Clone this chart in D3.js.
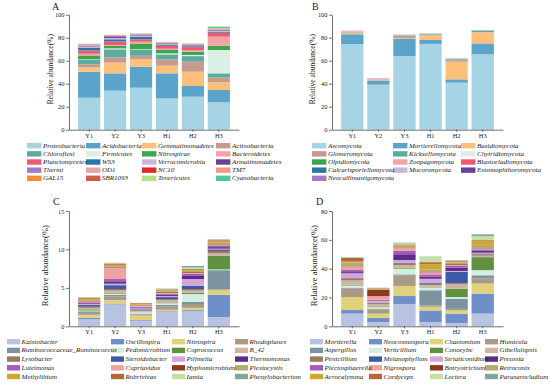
<!DOCTYPE html>
<html>
<head>
<meta charset="utf-8">
<script src="https://cdn.jsdelivr.net/npm/d3@7"></script>
<style>
  body { margin: 0; background: #fff; }
  svg { display: block; font-family: "Liberation Serif", "Times New Roman", serif; }
</style>
</head>
<body>
<svg id="chart" width="550" height="384"></svg>
<script>
const samples = ["Y1", "Y2", "Y3", "H1", "H2", "H3"];

// A - bacterial phyla (values per sample: Y1 Y2 Y3 H1 H2 H3)
const bacPhyla = ["Proteobacteria", "Acidobacteria", "Gemmatimonadetes", "Actinobacteria",
  "Chloroflexi", "Firmicutes", "Nitrospirae", "Bacteroidetes",
  "Planctomycetes", "WS3", "Verrucomicrobia", "Armatimonadetes",
  "Thermi", "OD1", "NC10", "TM7",
  "GAL15", "SBR1093", "Tenericutes", "Cyanobacteria"];
const bacPhylaValues = [
  [27.8, 33.9, 36.5, 27.2, 28.7, 23.8],
  [22.6, 15.1, 18.3, 21.8, 9.3, 10.7],
  [3.8, 9.3, 6.4, 6.7, 12.4, 6.7],
  [2.6, 4.6, 3.1, 5.5, 8.7, 4.3],
  [4.0, 7.0, 5.0, 4.3, 4.9, 3.5],
  [0.4, 0.8, 0.6, 0.9, 1.0, 20.3],
  [3.4, 2.1, 5.1, 2.9, 2.8, 3.7],
  [1.4, 0.8, 1.5, 1.1, 1.1, 7.9],
  [2.9, 3.2, 2.1, 2.6, 2.9, 3.4],
  [2.5, 1.8, 2.3, 0.9, 0.8, 1.0],
  [0.8, 1.2, 1.0, 0.5, 0.6, 0.8],
  [0.4, 0.8, 0.6, 0.6, 0.5, 0.5],
  [0.6, 0.9, 0.3, 0.3, 0.3, 0.3],
  [0.4, 0.3, 0.2, 0.2, 0.2, 0.3],
  [0.2, 0.1, 0.1, 0.1, 0.1, 0.2],
  [0.3, 0.2, 0.2, 0.2, 0.2, 0.3],
  [0.1, 0.1, 0.1, 0.1, 0.1, 0.2],
  [0.2, 0.1, 0.1, 0.1, 0.1, 0.2],
  [0.1, 0.1, 0.1, 0.1, 0.1, 0.3],
  [0.2, 0.1, 0.1, 0.1, 0.1, 1.2]
];

// B - fungal phyla
const funPhyla = ["Ascomycota", "Mortierellomycota", "Basidiomycota",
  "Glomeromycota", "Kickxellomycota", "Chytridiomycota",
  "Olpidiomycota", "Zoopagomycota", "Blastocladiomycota",
  "Calcarisporiellomycota", "Mucoromycota", "Entomophthoromycota",
  "Neocallimastigomycota"];
const funPhylaValues = [
  [74.5, 39.1, 64.0, 74.6, 40.9, 65.5],
  [8.5, 3.3, 15.1, 3.4, 2.9, 9.5],
  [1.2, 0.4, 0.5, 4.0, 15.3, 9.6],
  [0.4, 0.3, 1.8, 0.3, 1.2, 0.3],
  [0.3, 0.2, 0.6, 0.3, 0.4, 1.0],
  [0.2, 0.1, 0.2, 0.2, 0.3, 0.3],
  [0.1, 0.1, 0.1, 0.5, 0.6, 0.2],
  [0.6, 0.9, 0.2, 0.1, 0.1, 0.1],
  [0.1, 0.1, 0.05, 0.05, 0.05, 0.05],
  [0.05, 0.05, 0.05, 0.05, 0.05, 0.05],
  [0.05, 0.05, 0.05, 0.05, 0.05, 0.05],
  [0.02, 0.02, 0.02, 0.02, 0.02, 0.02],
  [0.02, 0.02, 0.02, 0.02, 0.02, 0.02]
];

// C - bacterial genera
const bacGenera = ["Kaistobacter", "Oscillospira", "Nitrospira", "Rhodoplanes",
  "Ruminococcaceae_Ruminococcus", "Pedomicrobium", "Coprococcus", "B_42",
  "Lysobacter", "Steroidobacter", "Pilimelia", "Thermomonas",
  "Luteimonas", "Cupriavidus", "Hyphomicrobium", "Plesiocystis",
  "Methylibium", "Rubrivivax", "Iamia", "Phenylobacterium"];
const bacGeneraValues = [
  [0.95, 2.85, 0.7, 1.85, 1.95, 1.2],
  [0.15, 0.1, 0.1, 0.1, 0.15, 2.9],
  [0.4, 0.45, 0.6, 0.2, 0.3, 0.6],
  [0.25, 0.5, 0.15, 0.45, 0.5, 0.1],
  [0.2, 0.2, 0.1, 0.2, 0.3, 2.5],
  [0.1, 0.15, 0.2, 0.2, 1.0, 0.1],
  [0.15, 0.1, 0.05, 0.1, 0.15, 1.8],
  [0.2, 0.3, 0.1, 0.3, 0.3, 0.3],
  [0.15, 0.2, 0.1, 0.15, 0.2, 0.3],
  [0.25, 0.5, 0.1, 0.25, 0.4, 0.2],
  [0.1, 0.2, 0.15, 0.15, 0.9, 0.1],
  [0.1, 0.3, 0.1, 0.15, 0.4, 0.2],
  [0.12, 0.3, 0.1, 0.15, 0.3, 0.15],
  [0.12, 1.5, 0.15, 0.1, 0.1, 0.1],
  [0.1, 0.1, 0.05, 0.1, 0.1, 0.1],
  [0.1, 0.1, 0.05, 0.1, 0.15, 0.2],
  [0.15, 0.15, 0.1, 0.15, 0.15, 0.2],
  [0.1, 0.15, 0.1, 0.1, 0.1, 0.15],
  [0.05, 0.05, 0.02, 0.05, 0.2, 0.1],
  [0.05, 0.05, 0.02, 0.05, 0.2, 0.05]
];

// D - fungal genera
const funGenera = ["Mortierella", "Neocosmospora", "Chaetomium", "Humicola",
  "Aspergillus", "Verticillium", "Conocybe", "Gibellulopsis",
  "Penicillium", "Melanophyllum", "Striaticonidium", "Preussia",
  "Plectosphaerella", "Nigrospora", "Botryotrichum", "Retroconis",
  "Acrocalymma", "Cordyceps", "Lectera", "Parasarocladium"];
const funGeneraValues = [
  [8.8, 3.0, 15.5, 3.0, 2.3, 8.8],
  [2.5, 2.8, 5.5, 8.0, 6.5, 13.9],
  [9.0, 3.0, 7.0, 2.5, 2.3, 7.0],
  [6.0, 3.0, 7.5, 1.0, 1.0, 3.5],
  [0.5, 0.5, 0.5, 10.5, 7.0, 2.2],
  [1.5, 1.0, 4.0, 2.0, 1.2, 3.6],
  [0.5, 0.5, 0.5, 0.5, 5.8, 9.0],
  [3.0, 1.5, 2.0, 1.0, 3.0, 1.0],
  [1.0, 0.8, 1.0, 1.0, 0.8, 1.0],
  [0.5, 0.3, 0.5, 0.5, 8.0, 0.5],
  [3.5, 1.2, 2.0, 3.0, 0.5, 0.6],
  [0.8, 0.3, 4.0, 1.5, 2.3, 1.5],
  [1.5, 0.5, 2.5, 1.5, 1.5, 0.8],
  [2.0, 2.5, 2.0, 1.5, 0.5, 0.5],
  [0.3, 4.5, 0.3, 0.5, 0.5, 0.3],
  [3.0, 0.5, 1.0, 1.5, 1.0, 2.3],
  [0.5, 0.3, 0.5, 3.5, 0.6, 2.8],
  [2.5, 0.3, 0.5, 1.5, 0.5, 0.5],
  [0.3, 0.2, 0.7, 3.5, 0.3, 2.8],
  [0.3, 0.1, 0.5, 0.3, 0.3, 1.2]
];

const phylumColors = ["#a6d4e5", "#5aa4cc", "#fdc07b", "#c79a8d", "#5dab9d", "#dcefe7",
  "#3ea64a", "#f5a2a9", "#ef5870", "#2777a8", "#cdb6da", "#6a3f99",
  "#a07cc0", "#e2a7a5", "#e2272a", "#f29b7c", "#fb8a31", "#cf5e49",
  "#b3de8c", "#4fc79c"];
const genusColors = ["#b8c3e2", "#6e8fca", "#e0d27c", "#a99a85", "#7b929f", "#d3ede2",
  "#5f9140", "#d0b49c", "#9d7a5a", "#3d5aa6", "#d3a8d8", "#5b2d8a",
  "#a55bb5", "#eea3a3", "#8e3a20", "#b3aa6e", "#d0a52c", "#b8673a",
  "#c5e0a0", "#7fa59c"];

const svg = d3.select("#chart");

function drawPanel(p) {
  const g = svg.append("g");

  const x = d3.scaleBand().domain(samples)
    .range([p.x0, p.x1]).paddingInner(0.144).paddingOuter(0.35);
  const y = d3.scaleLinear().domain([0, p.yMax]).range([p.yBottom, p.yTop]);
  const color = d3.scaleOrdinal(p.taxa, p.colors);

  // rows for d3.stack
  const rows = samples.map((s, i) => {
    const r = { sample: s };
    p.taxa.forEach((t, j) => { r[t] = p.values[j][i]; });
    return r;
  });
  const series = d3.stack().keys(p.taxa)(rows);

  g.append("g").selectAll("g")
    .data(series)
    .join("g")
      .attr("fill", d => color(d.key))
    .selectAll("rect")
    .data(d => d)
    .join("rect")
      .attr("x", d => x(d.data.sample))
      .attr("width", x.bandwidth())
      .attr("y", d => y(d[1]))
      .attr("height", d => Math.max(0, y(d[0]) - y(d[1])));

  // Y axis
  const yAxis = g.append("g")
    .attr("transform", `translate(${p.x0},0)`)
    .call(d3.axisLeft(y).tickValues(p.ticks).tickSize(3).tickSizeOuter(0).tickPadding(1.5));
  // X axis
  const xAxis = g.append("g")
    .attr("transform", `translate(0,${p.yBottom})`)
    .call(d3.axisBottom(x).tickSize(2).tickSizeOuter(0).tickPadding(1.5));
  [yAxis, xAxis].forEach(a => {
    a.attr("font-family", null).attr("font-size", 6.4);
    a.selectAll("path, line").attr("stroke", "#333").attr("stroke-width", 0.7);
    a.selectAll("text").attr("fill", "#222");
  });

  // axis title
  g.append("text")
    .attr("transform", `translate(${p.labelX},${(p.yBottom + p.yTop) / 2 - 3}) rotate(-90)`)
    .attr("text-anchor", "middle")
    .attr("dominant-baseline", "middle")
    .attr("font-size", p.labelSize)
    .attr("fill", "#222")
    .text("Relative abundance(%)");

  // panel letter
  g.append("text")
    .attr("x", p.letterX).attr("y", p.letterY)
    .attr("font-size", 10)
    .attr("fill", "#222")
    .text(p.letter);

  // legend: swatches first, then names on top (long names run over the next swatch)
  const pos = i => [p.legCols[i % p.legCols.length],
    p.legY0 + Math.floor(i / p.legCols.length) * p.legDy];
  g.append("g").selectAll("rect")
    .data(p.taxa)
    .join("rect")
      .attr("x", (d, i) => pos(i)[0])
      .attr("y", (d, i) => pos(i)[1] - 2.7)
      .attr("width", p.swW).attr("height", 5.4)
      .attr("fill", d => color(d));
  g.append("g").selectAll("text")
    .data(p.taxa)
    .join("text")
      .attr("x", (d, i) => pos(i)[0] + p.swW + 1.6)
      .attr("y", (d, i) => pos(i)[1])
      .attr("dominant-baseline", "central")
      .attr("font-size", 7)
      .attr("font-style", "italic")
      .attr("fill", "#222")
      .text(d => d);
}

drawPanel({
  letter: "A", letterX: 52, letterY: 10,
  taxa: bacPhyla, values: bacPhylaValues, colors: phylumColors,
  x0: 69, x1: 239, yBottom: 129.7, yTop: 14.7, yMax: 100, ticks: d3.range(0, 101, 20),
  labelX: 51, labelSize: 7.5,
  legCols: [27, 86, 142, 216], legY0: 145.7, legDy: 8.15, swW: 14.4
});
drawPanel({
  letter: "B", letterX: 312, letterY: 10,
  taxa: funPhyla, values: funPhylaValues, colors: phylumColors,
  x0: 332, x1: 503, yBottom: 129.7, yTop: 14.7, yMax: 100, ticks: d3.range(0, 101, 20),
  labelX: 313.5, labelSize: 7.5,
  legCols: [312, 393, 461], legY0: 145.7, legDy: 8.15, swW: 14.4
});
drawPanel({
  letter: "C", letterX: 53, letterY: 205,
  taxa: bacGenera, values: bacGeneraValues, colors: genusColors,
  x0: 69, x1: 239, yBottom: 326.3, yTop: 211, yMax: 15, ticks: [0, 5, 10, 15],
  labelX: 46, labelSize: 8.7,
  legCols: [7, 111, 172, 235], legY0: 341.7, legDy: 8.7, swW: 13
});
drawPanel({
  letter: "D", letterX: 316, letterY: 205,
  taxa: funGenera, values: funGeneraValues, colors: genusColors,
  x0: 332, x1: 503, yBottom: 326.3, yTop: 211, yMax: 80, ticks: d3.range(0, 81, 20),
  labelX: 315, labelSize: 8.7,
  legCols: [310, 369, 430, 485], legY0: 341.7, legDy: 8.7, swW: 13
});
</script>
</body>
</html>
